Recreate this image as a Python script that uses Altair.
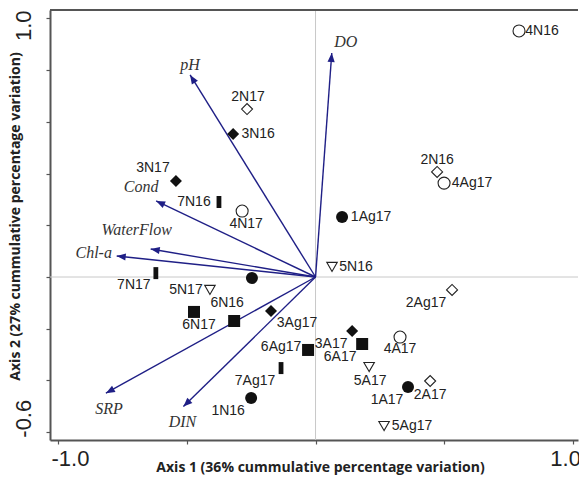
import altair as alt
import pandas as pd

# ---- environmental vectors (biplot arrows) ----
var_names = ["pH", "DO", "Cond", "WaterFlow", "Chl-a", "SRP", "DIN"]
var_x = [-0.487, 0.063, -0.619, -0.640, -0.772, -0.814, -0.513]
var_y = [0.781, 0.866, 0.294, 0.108, 0.081, -0.449, -0.501]
# label offsets in pixels (style)
var_dx = [0, 14, -15, -14, -23, 3, -1]
var_dy = [-10, -11, -14, -19, -3, 16, 15]

# ---- samples ----
sample_labels = ["4N16", "2N17", "3N16", "3N17", "7N16", "4N17", "2N16", "4Ag17",
                 "1Ag17", "5N16", "7N17", "", "5N17", "6N16", "6N17", "3Ag17",
                 "6Ag17", "7Ag17", "1N16", "3A17", "6A17", "4A17", "2Ag17", "5A17",
                 "1A17", "2A17", "5Ag17"]
sample_x = [0.790, -0.266, -0.320, -0.542, -0.375, -0.285, 0.472, 0.499,
            0.103, 0.064, -0.620, -0.247, -0.410, -0.316, -0.472, -0.173,
            -0.029, -0.134, -0.250, 0.142, 0.181, 0.328, 0.530, 0.208,
            0.359, 0.445, 0.266]
sample_y = [0.951, 0.649, 0.553, 0.371, 0.290, 0.255, 0.406, 0.363,
            0.232, 0.039, 0.015, -0.004, -0.050, -0.170, -0.135, -0.131,
            -0.282, -0.352, -0.468, -0.209, -0.259, -0.232, -0.050, -0.348,
            -0.425, -0.402, -0.576]
sample_site = [4, 2, 3, 3, 7, 4, 2, 4,
               1, 5, 7, 1, 5, 6, 6, 3,
               6, 7, 1, 3, 6, 4, 2, 5,
               1, 2, 5]
# label offsets in pixels (style)
label_dx = [23, 1, 25, -23, -25, 4, 0, 28, 29, 24, -22, 0, -24, -7, 5, 26,
            -27, -26, -23, -21, -22, 0, -26, 1, -21, 0, 28]
label_dy = [0, -12, 0, -13, 0, 13, -12, 0, 0, 0, 12, 0, 0, -18, 13, 12,
            -3, 13, 13, 13, 13, 12, 13, 14, 13, 14, 0]

W, H = 528, 430
XDOM = [-1.031, 1.019]
YDOM = [-0.630, 1.032]
PX = W / (XDOM[1] - XDOM[0])
PY = H / (YDOM[1] - YDOM[0])

vars_df = pd.DataFrame({"name": var_names, "x": var_x, "y": var_y,
                        "dx": var_dx, "dy": var_dy, "x0": 0.0, "y0": 0.0})
samp_df = pd.DataFrame({"label": sample_labels, "x": sample_x, "y": sample_y,
                        "site": [str(s) for s in sample_site],
                        "dx": label_dx, "dy": label_dy})
zero_df = pd.DataFrame({"v": [0.0]})

xscale = alt.Scale(domain=XDOM, nice=False, zero=False)
yscale = alt.Scale(domain=YDOM, nice=False, zero=False)

xaxis = alt.Axis(
    values=[-1, -0.5, 0, 0.5, 1], grid=False,
    domainColor="#555555", domainWidth=2, tickColor="#555555", tickSize=4, tickWidth=1.2,
    labelExpr="datum.value <= -0.99 ? '-1.0' : (datum.value >= 0.99 ? '1.0' : '')",
    labelFont="Liberation Sans", labelFontSize=22, labelColor="#222222", labelPadding=4,
    labelOffset={"condition": {"test": "datum.value < 0", "value": 12}, "value": -8},
    labelFlush=False, labelOverlap=False,
    title="Axis 1 (36% cummulative percentage variation)",
    titleFont="Open Sans", titleFontSize=14, titleFontWeight="bold", titleColor="#222222",
    titlePadding=-9, titleX=270,
)
yaxis = alt.Axis(
    values=[-0.6, -0.4, -0.2, 0, 0.2, 0.4, 0.6, 0.8, 1.0], grid=False,
    domainColor="#555555", domainWidth=2, tickColor="#555555", tickSize=4, tickWidth=1.2,
    labelExpr="datum.value >= 0.99 ? '1.0' : (datum.value <= -0.59 ? '-0.6' : '')",
    labelFont="Liberation Sans", labelFontSize=22, labelColor="#222222", labelPadding=11,
    labelAngle=270, labelAlign="center", labelBaseline="bottom",
    labelOffset={"condition": {"test": "datum.value > 0", "value": 7}, "value": -14},
    labelFlush=False, labelOverlap=False,
    title="Axis 2 (27% cummulative percentage variation)",
    titleFont="Open Sans", titleFontSize=14, titleFontWeight="bold", titleColor="#222222",
    titlePadding=-10, titleY=206,
)

X = lambda f: alt.X(f, type="quantitative", scale=xscale, axis=xaxis)
Y = lambda f: alt.Y(f, type="quantitative", scale=yscale, axis=yaxis)

base_zero = alt.Chart(zero_df)
vline = base_zero.mark_rule(color="#c8c8c8", strokeWidth=1).encode(x=X("v"))
hline = base_zero.mark_rule(color="#c8c8c8", strokeWidth=1).encode(y=Y("v"))

top_border = alt.Chart(zero_df).mark_rule(color="#555555", strokeWidth=2).encode(
    x=alt.value(0), x2=alt.value(W), y=alt.value(0))

base_vars = alt.Chart(vars_df)
arrows = base_vars.mark_rule(color="#1f1f86", strokeWidth=1.4).encode(
    x=X("x0"), y=Y("y0"), x2="x:Q", y2="y:Q")
heads = base_vars.transform_calculate(
    ang="(450 - atan2(datum.y, datum.x) * 180 / PI) % 360"
).mark_point(shape="M0,0L-1.2,3L1.2,3Z", filled=True, size=36, color="#1f1f86", opacity=1).encode(
    x=X("x"), y=Y("y"), angle=alt.Angle("ang:Q", scale=None))
var_text = base_vars.transform_calculate(
    lx=f"datum.x + datum.dx / {PX}", ly=f"datum.y - datum.dy / {PY}"
).mark_text(font="Liberation Serif", fontStyle="italic", fontSize=16, color="#333333",
            align="center", baseline="middle").encode(
    x=X("lx"), y=Y("ly"), text="name:N")

base_s = alt.Chart(samp_df)
sites = ["1", "2", "3", "4", "5", "6", "7"]
shapes = ["circle", "diamond", "diamond", "circle", "triangle-down", "square",
          "M-0.4,-1L0.4,-1L0.4,1L-0.4,1Z"]
fills = ["#111111", "#ffffff", "#111111", "#ffffff", "#ffffff", "#111111", "#111111"]
sizes = [144, 121, 144, 144, 110, 144, 144]
swidths = [0, 1.1, 0, 1.1, 1.1, 0, 0]
markers = base_s.mark_point(filled=True, opacity=1, stroke="#222222").encode(
    x=X("x"), y=Y("y"),
    shape=alt.Shape("site:N", scale=alt.Scale(type="ordinal", domain=sites, range=shapes), legend=None),
    fill=alt.Fill("site:N", scale=alt.Scale(type="ordinal", domain=sites, range=fills), legend=None),
    size=alt.Size("site:N", scale=alt.Scale(type="ordinal", domain=sites, range=sizes), legend=None),
    strokeWidth=alt.StrokeWidth("site:N", scale=alt.Scale(type="ordinal", domain=sites, range=swidths), legend=None),
)
samp_text = base_s.transform_calculate(
    lx=f"datum.x + datum.dx / {PX}", ly=f"datum.y - datum.dy / {PY}"
).mark_text(font="Liberation Sans", fontSize=14, color="#222222",
            align="center", baseline="middle").encode(
    x=X("lx"), y=Y("ly"), text="label:N")

chart = alt.layer(vline, hline, top_border, arrows, heads, var_text, markers, samp_text).properties(
    width=W, height=H,
    autosize=alt.AutoSizeParams(type="none"),
    padding={"left": 50, "top": 10, "right": 1, "bottom": 41},
).configure_view(stroke=None)

chart.save("out.html", embed_options={"renderer": "svg", "actions": False})
